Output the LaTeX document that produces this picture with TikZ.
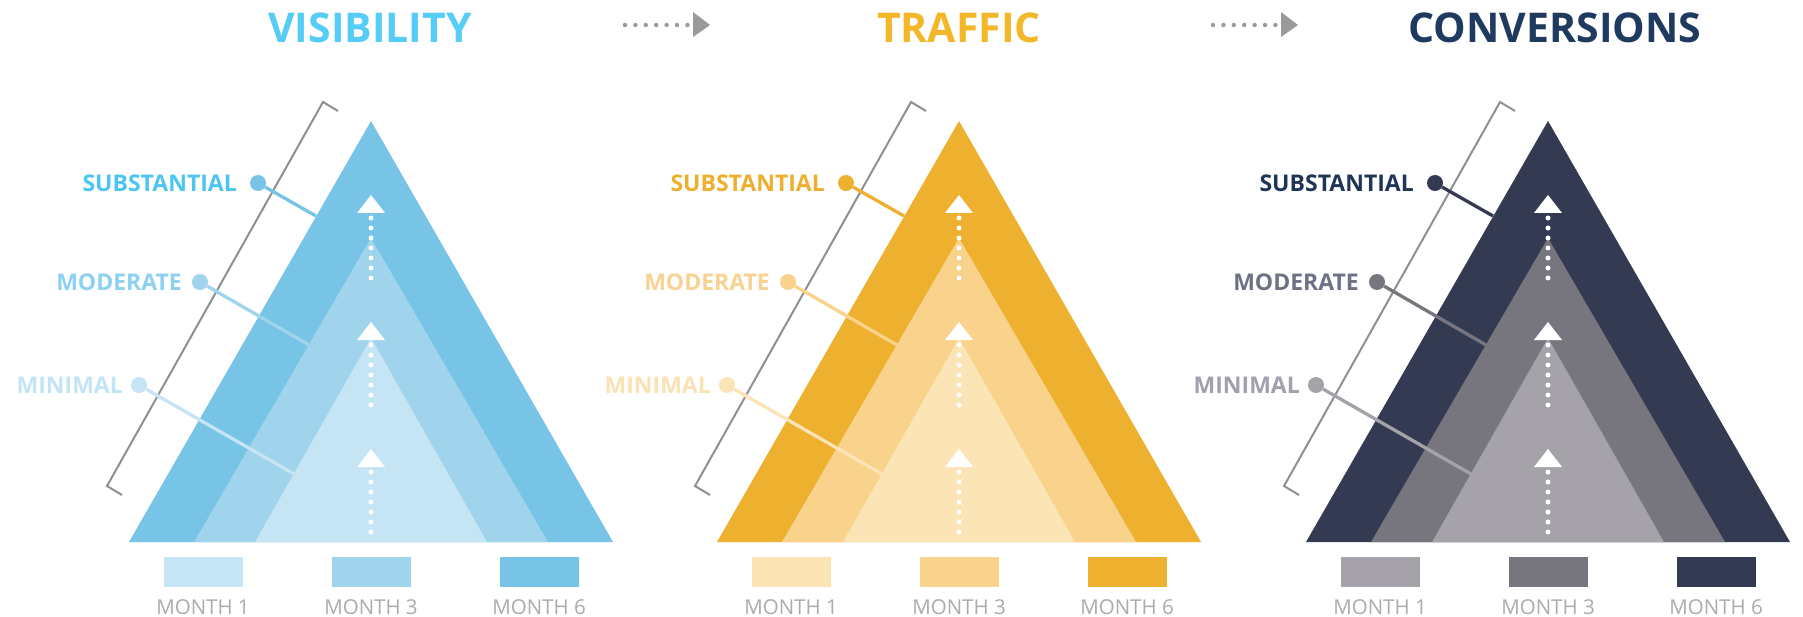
\documentclass[tikz,border=0pt]{standalone}
\usepackage{fontspec}
\setmainfont{Open Sans}

% blue panel
\definecolor{bouter}{HTML}{77C4E6}
\definecolor{bmiddle}{HTML}{A0D3EC}
\definecolor{binner}{HTML}{C5E4F4}
\definecolor{btitle}{HTML}{55CDF7}
\definecolor{bsub}{HTML}{4CC5F2}
\definecolor{bmod}{HTML}{8CD1F2}
\definecolor{bmin}{HTML}{C2E5F6}
% yellow panel
\definecolor{youter}{HTML}{EEB02F}
\definecolor{ymiddle}{HTML}{F9D28C}
\definecolor{yinner}{HTML}{FBE4B6}
\definecolor{ytitle}{HTML}{F4B729}
\definecolor{ysub}{HTML}{EEAF2F}
\definecolor{ymod}{HTML}{F8D290}
\definecolor{ymin}{HTML}{FBE2B5}
% dark panel
\definecolor{douter}{HTML}{343A52}
\definecolor{dmiddle}{HTML}{77767F}
\definecolor{dinner}{HTML}{A6A2AA}
\definecolor{dtitle}{HTML}{1F3A5F}
\definecolor{dsub}{HTML}{1E3558}
\definecolor{dmod}{HTML}{6D7285}
\definecolor{dmin}{HTML}{A0A0AF}
% neutrals
\definecolor{bracketgray}{HTML}{909090}
\definecolor{monthgray}{HTML}{ABABAB}
\definecolor{arrowgray}{HTML}{9A9A9A}

\tikzset{
  titletext/.style={font=\fontsize{41}{44}\selectfont\bfseries, inner sep=0pt, anchor=base},
  leveltext/.style={font=\fontsize{23}{25}\selectfont\bfseries, inner sep=0pt, anchor=east},
  monthtext/.style={font=\fontsize{20.5}{22}\selectfont, text=monthgray, inner sep=0pt, anchor=base},
  legbox/.style={minimum width=79pt, minimum height=30pt, inner sep=0pt},
  leveldot/.style={circle, minimum size=16pt, inner sep=0pt},
  leader/.style={line width=3.3pt},
  bracketline/.style={draw=bracketgray, line width=2pt},
}

% one pyramid panel: #1 colour prefix, #2 centre x, #3 title, #4 title offset
\newcommand\drawpanel[4]{%
\begin{scope}[xshift=#2pt]
  \node[titletext, text=#1title] (#1-title) at (#4,42.7) {#3};
  % nested pyramids
  \fill[#1outer]  (-242,542) -- (0,121) -- (242,542) -- cycle;
  \fill[#1middle] (-177,542) -- (0,238) -- (177,542) -- cycle;
  \fill[#1inner]  (-116,542) -- (0,338) -- (116,542) -- cycle;
  % white dotted arrows up the middle
  \foreach \tipy in {195,322,449} {
    \fill[white] (-14,\tipy+18) -- (0,\tipy) -- (14,\tipy+18) -- cycle;
    \foreach \i in {0,...,6} \fill[white] (0,\tipy+23+10*\i) circle (2.5pt);
  }
  % bracket along the left side
  \draw[bracketline] (-33,111) -- (-48,102) -- (-264,486) -- (-249,495);
  % level markers
  \coordinate (#1-subend) at (-55,216);
  \coordinate (#1-modend) at (-62,345);
  \coordinate (#1-minend) at (-77,474);
  \node[leveldot, fill=#1outer]  (#1-subdot) at (-113,183) {};
  \node[leveldot, fill=#1middle] (#1-moddot) at (-171,282) {};
  \node[leveldot, fill=#1inner]  (#1-mindot) at (-232,385) {};
  \draw[leader, draw=#1outer]  (#1-subdot) -- (#1-subend);
  \draw[leader, draw=#1middle] (#1-moddot) -- (#1-modend);
  \draw[leader, draw=#1inner]  (#1-mindot) -- (#1-minend);
  \node[leveltext, text=#1sub] (#1-subtext) at (-134,183) {SUBSTANTIAL};
  \node[leveltext, text=#1mod] (#1-modtext) at (-189,282) {MODERATE};
  \node[leveltext, text=#1min] (#1-mintext) at (-248,385) {MINIMAL};
  % legend
  \node[legbox, fill=#1inner]  (#1-m1box) at (-168,572) {};
  \node[legbox, fill=#1middle] (#1-m3box) at (0,572) {};
  \node[legbox, fill=#1outer]  (#1-m6box) at (168,572) {};
  \node[monthtext] (#1-m1) at (-168,614) {MONTH 1};
  \node[monthtext] (#1-m3) at (0,614) {MONTH 3};
  \node[monthtext] (#1-m6) at (168,614) {MONTH 6};
\end{scope}}

\begin{document}
\begin{tikzpicture}[x=1pt, y=-1pt]
  \useasboundingbox (0,0) rectangle (1803,617);
  \fill[white] (0,0) rectangle (1803,617);

  \drawpanel{b}{371}{VISIBILITY}{-1}
  \drawpanel{y}{959}{TRAFFIC}{0}
  \drawpanel{d}{1548}{CONVERSIONS}{7}

  % dotted arrows between the stage titles
  \foreach \ax in {0,588} {
    \foreach \i in {0,...,6} \fill[arrowgray] (\ax+625+10.4*\i,25) circle (2.2pt);
    \fill[arrowgray] (\ax+693,12) -- (\ax+710,25) -- (\ax+693,37) -- cycle;
  }
\end{tikzpicture}
\end{document}
